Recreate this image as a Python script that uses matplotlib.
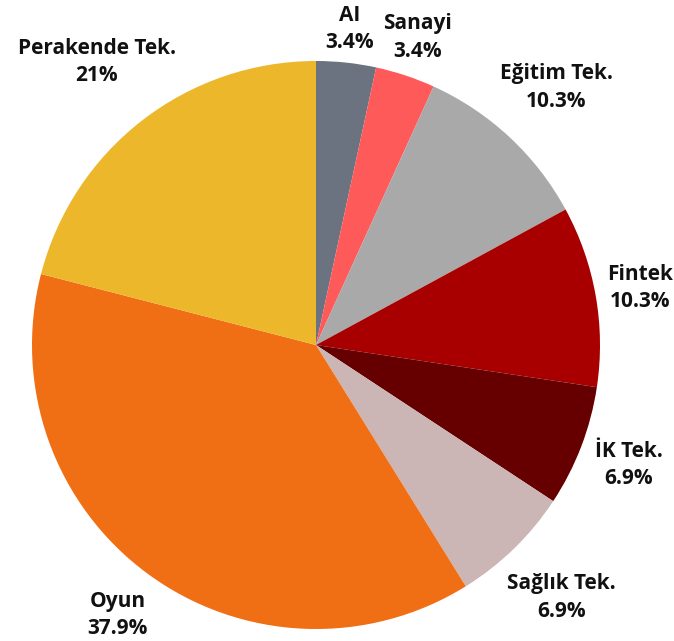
import numpy as np
import matplotlib
matplotlib.use("Agg")
import matplotlib.pyplot as plt

categories = ["AI", "Sanayi", "Eğitim Tek.", "Fintek", "İK Tek.", "Sağlık Tek.", "Oyun", "Perakende Tek."]
values = [3.4, 3.4, 10.3, 10.3, 6.9, 6.9, 37.9, 21]
pct_labels = ["3.4%", "3.4%", "10.3%", "10.3%", "6.9%", "6.9%", "37.9%", "21%"]
colors = ["#6b7280", "#ff5a5a", "#a9a9a9", "#a80000", "#660000", "#cbb5b5", "#f06e14", "#edb72c"]
label_r = [1.12, 1.14, 1.24, 1.16, 1.18, 1.24, 1.18, 1.26]

plt.rcParams['font.family'] = ['Open Sans', 'DejaVu Sans']

fig = plt.figure(figsize=(6.74, 6.41), dpi=100)
ax = fig.add_axes([32/674, 12/641, 568/674, 568/641])
wedges, _ = ax.pie(values, colors=colors, startangle=90, counterclock=False,
                   radius=1, wedgeprops=dict(linewidth=0))
ax.set_xlim(-1, 1)
ax.set_ylim(-1, 1)
ax.set_aspect('equal')
ax.axis('off')

for w, cat, pl, r in zip(wedges, categories, pct_labels, label_r):
    ang = np.deg2rad((w.theta1 + w.theta2) / 2)
    x, y = r * np.cos(ang), r * np.sin(ang)
    ax.text(x, y, f"{cat}\n{pl}", ha='center', va='center', fontsize=15,
            fontweight='bold', color='#111111', linespacing=1.4, clip_on=False)

fig.savefig("out.png", dpi=100)
